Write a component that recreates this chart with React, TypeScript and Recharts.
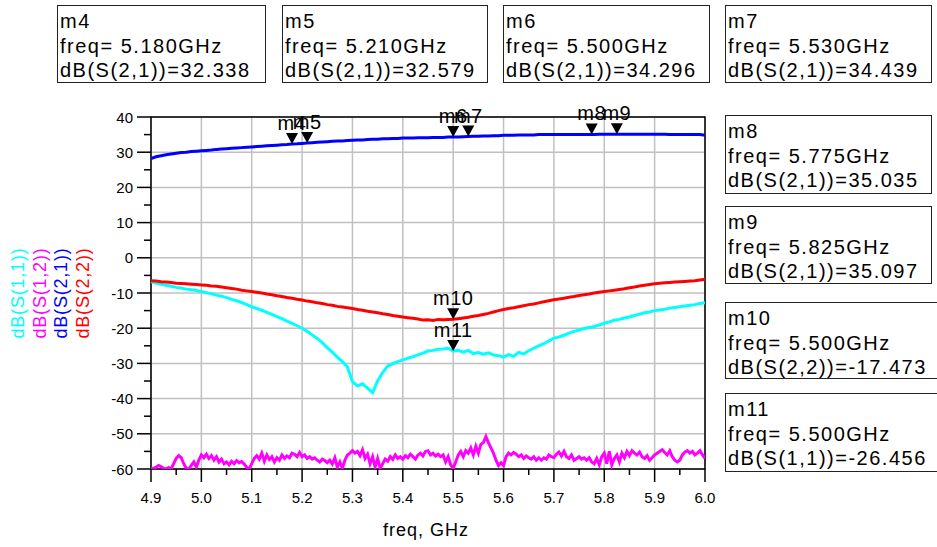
import React from 'react';
import {
  LineChart,
  Line,
  XAxis,
  YAxis,
  CartesianGrid,
  ReferenceDot,
  ReferenceArea,
} from 'recharts';

const FONT = '"Liberation Sans", Arial, sans-serif';

// sweep: 4.90 .. 6.00 GHz, 0.01 GHz step (S12 at 0.005 GHz)
const F_START = 4.9;

const S11 = [
  -6.8, -7.2, -7.5, -7.8, -8.1, -8.4, -8.6, -8.9, -9.1, -9.3,
  -9.6, -9.9, -10.2, -10.6, -10.9, -11.3, -11.8, -12.2, -12.7, -13.3,
  -13.9, -14.4, -14.9, -15.5, -16.1, -16.7, -17.3, -18.0, -18.6, -19.3,
  -20.0, -20.9, -21.9, -22.9, -24.1, -25.5, -26.8, -28.2, -29.5, -31.0,
  -35.2, -36.4, -35.8, -37.0, -38.3, -35.0, -32.6, -30.7, -30.1, -29.5,
  -29.0, -28.5, -28.1, -27.6, -27.1, -26.5, -26.3, -26.0, -25.9, -25.7,
  -26.46, -26.3, -26.8, -26.3, -27.2, -26.9, -27.4, -27.0, -27.6, -27.8,
  -28.2, -27.5, -28.0, -26.9, -27.3, -26.4, -25.7, -25.0, -24.4, -23.6,
  -22.8, -22.5, -22.0, -21.4, -20.9, -20.5, -20.1, -19.8, -19.5, -19.1,
  -18.6, -18.2, -17.7, -17.5, -17.1, -16.8, -16.4, -16.0, -15.6, -15.4,
  -15.0, -14.8, -14.6, -14.3, -14.1, -13.9, -13.7, -13.5, -13.3, -13.0,
  -12.8,
];

const S22 = [
  -6.5, -6.6, -6.8, -6.9, -7.0, -7.2, -7.3, -7.4, -7.5, -7.6,
  -7.7, -7.8, -8.0, -8.1, -8.3, -8.5, -8.7, -8.9, -9.2, -9.4,
  -9.6, -9.8, -10.0, -10.3, -10.5, -10.8, -11.0, -11.3, -11.5, -11.8,
  -12.0, -12.3, -12.5, -12.8, -13.0, -13.3, -13.5, -13.8, -14.0, -14.2,
  -14.4, -14.7, -14.9, -15.2, -15.4, -15.6, -15.9, -16.1, -16.4, -16.6,
  -16.8, -17.0, -17.2, -17.4, -17.7, -17.6, -17.8, -17.5, -17.6, -17.5,
  -17.47, -17.3, -17.1, -16.9, -16.6, -16.4, -16.1, -15.8, -15.4, -15.0,
  -14.7, -14.4, -14.2, -13.9, -13.6, -13.3, -13.1, -12.8, -12.5, -12.2,
  -11.9, -11.7, -11.5, -11.2, -11.0, -10.7, -10.5, -10.3, -10.0, -9.8,
  -9.6, -9.4, -9.2, -9.0, -8.8, -8.5, -8.3, -8.0, -7.8, -7.6,
  -7.4, -7.2, -7.1, -7.0, -6.9, -6.8, -6.7, -6.6, -6.5, -6.3,
  -6.1,
];

const S21 = [
  28.2, 28.7, 29.0, 29.3, 29.5, 29.7, 29.9, 30.0, 30.2, 30.3,
  30.4, 30.5, 30.6, 30.8, 30.9, 31.0, 31.1, 31.2, 31.3, 31.4,
  31.5, 31.6, 31.7, 31.8, 31.9, 32.0, 32.1, 32.2, 32.34, 32.4,
  32.5, 32.58, 32.7, 32.8, 32.9, 33.0, 33.1, 33.2, 33.2, 33.3,
  33.4, 33.5, 33.5, 33.6, 33.7, 33.7, 33.8, 33.8, 33.9, 33.9,
  34.0, 34.0, 34.0, 34.1, 34.1, 34.1, 34.2, 34.2, 34.2, 34.3,
  34.3, 34.35, 34.4, 34.44, 34.5, 34.5, 34.6, 34.6, 34.7, 34.7,
  34.8, 34.8, 34.8, 34.9, 34.9, 34.9, 34.9, 35.0, 35.0, 35.0,
  35.0, 35.0, 35.0, 35.0, 35.0, 35.0, 35.0, 35.0, 35.04, 35.1,
  35.1, 35.1, 35.1, 35.1, 35.1, 35.1, 35.1, 35.1, 35.1, 35.1,
  35.1, 35.1, 35.1, 35.0, 35.0, 35.0, 35.0, 35.0, 35.0, 35.0,
  34.8,
];

const S12 = [
  -60, -59.8, -59.5, -59.0, -59.3, -59.8, -60, -59.6, -60, -58.5,
  -57.0, -56.2, -56.8, -58.5, -59.8, -60, -59.0, -58.0, -59.5, -57.5,
  -56.0, -56.8, -55.8, -57.0, -56.2, -57.5, -56.5, -58.0, -57.2, -58.5,
  -58.0, -58.8, -57.8, -58.5, -57.6, -58.2, -57.9, -58.6, -59.5, -60,
  -58.5, -57.0, -56.2, -57.2, -55.5, -57.8, -56.0, -57.3, -56.5, -58.0,
  -56.8, -57.5, -56.0, -57.0, -56.3, -56.8, -55.5, -55.8, -56.5, -55.3,
  -56.5, -56.0, -57.0, -56.5, -57.2, -56.8, -57.5, -58.0, -57.2, -57.6,
  -58.2, -57.5, -58.6, -56.8, -59.5, -58.0, -59.8, -57.5, -56.0, -55.5,
  -54.8, -55.5, -55.0, -56.2, -54.5, -57.0, -55.8, -58.5, -56.5, -59.5,
  -57.0, -59.8, -58.5, -57.2, -57.8, -56.5, -57.3, -56.0, -57.0, -56.5,
  -57.2, -56.2, -56.8, -55.8, -56.5, -57.2, -56.0, -55.5, -56.3, -55.0,
  -54.8, -56.0, -55.5, -56.3, -55.8, -56.5, -56.0, -58.0, -56.5, -58.8,
  -59.9, -58.0, -56.0, -55.0, -56.5, -54.8, -55.5, -54.0, -56.0, -53.5,
  -55.5, -53.0, -52.5, -50.8, -52.5, -54.0, -55.5, -57.5, -59.0, -58.2,
  -59.0, -56.5, -55.5, -56.0, -55.3, -55.8, -56.5, -56.0, -57.0, -56.3,
  -56.8, -57.2, -56.5, -57.5, -56.8, -57.5, -56.8, -57.2, -56.0, -56.5,
  -56.8, -55.8, -55.2, -56.3, -55.0, -56.5, -57.0, -56.0, -57.5, -57.0,
  -56.5, -57.2, -56.8, -57.5, -56.8, -58.0, -58.5, -57.0, -58.8, -56.5,
  -55.5, -58.5, -55.0, -58.8, -57.0, -56.0, -58.0, -55.5, -56.8, -55.0,
  -56.2, -54.8, -55.5, -56.0, -55.2, -56.5, -57.0, -56.2, -57.5, -56.8,
  -56.0, -55.5, -55.0, -54.5, -55.3, -56.0, -54.8, -56.5, -57.5, -58.0,
  -57.5, -56.0, -55.2, -54.8, -55.5, -55.0, -56.0, -55.5, -54.8, -56.0,
  -57.0,
];

const SERIES_NAMES = ['dB(S(1,1))', 'dB(S(1,2))', 'dB(S(2,1))', 'dB(S(2,2))'];
const SERIES_COLORS = ['#00ffff', '#ff00ff', '#0000ff', '#ff0000'];

const X_TICKS = [
  4.9, 4.95, 5.0, 5.05, 5.1, 5.15, 5.2, 5.25, 5.3, 5.35, 5.4, 5.45,
  5.5, 5.55, 5.6, 5.65, 5.7, 5.75, 5.8, 5.85, 5.9, 5.95, 6.0,
];
const X_GRID = [4.9, 5.0, 5.1, 5.2, 5.3, 5.4, 5.5, 5.6, 5.7, 5.8, 5.9, 6.0];
const Y_TICKS = [-60, -55, -50, -45, -40, -35, -30, -25, -20, -15, -10, -5, 0, 5, 10, 15, 20, 25, 30, 35, 40];
const Y_GRID = [-60, -50, -40, -30, -20, -10, 0, 10, 20, 30, 40];

// markers
const MARKER_NAMES = ['m4', 'm5', 'm6', 'm7', 'm8', 'm9', 'm10', 'm11'];
const MARKER_FREQ = [5.18, 5.21, 5.5, 5.53, 5.775, 5.825, 5.5, 5.5];
const MARKER_TRACE = ['dB(S(2,1))', 'dB(S(2,1))', 'dB(S(2,1))', 'dB(S(2,1))', 'dB(S(2,1))', 'dB(S(2,1))', 'dB(S(2,2))', 'dB(S(1,1))'];
const MARKER_VALUE = [32.338, 32.579, 34.296, 34.439, 35.035, 35.097, -17.473, -26.456];

// readout box placement (layout only)
const BOX_POS = [
  { left: 57, top: 5, width: 209, height: 78 },
  { left: 282, top: 5, width: 206, height: 78 },
  { left: 503, top: 5, width: 207, height: 78 },
  { left: 725, top: 5, width: 207, height: 78 },
  { left: 725, top: 115, width: 207, height: 79 },
  { left: 725, top: 206, width: 207, height: 78 },
  { left: 725, top: 302, width: 220, height: 77 },
  { left: 725, top: 393, width: 220, height: 79 },
];

const toPoints = (vals: number[], step: number) =>
  vals.map((v, i) => ({ f: Math.round((F_START + i * step) * 1000) / 1000, v }));

const SERIES_DATA = [toPoints(S11, 0.01), toPoints(S12, 0.005), toPoints(S21, 0.01), toPoints(S22, 0.01)];

const YTick = (props: any) => {
  const { x, y, payload } = props;
  const major = payload.value % 10 === 0;
  return (
    <g>
      <line x1={x - (major ? 14 : 7)} x2={x} y1={y} y2={y} stroke="#000" strokeWidth={1.5} />
      {major && (
        <text x={x - 18} y={y} textAnchor="end" dominantBaseline="central"
          fontSize={15} fontFamily={FONT} fill="#000">
          {payload.value}
        </text>
      )}
    </g>
  );
};

const XTick = (props: any) => {
  const { x, y, payload } = props;
  const major = Math.round(payload.value * 100) % 10 === 0;
  return (
    <g>
      <line x1={x} x2={x} y1={y} y2={y + (major ? 13 : 6)} stroke="#000" strokeWidth={1.5} />
      {major && (
        <text x={x} y={y + 28} textAnchor="middle" dominantBaseline="central"
          fontSize={15} fontFamily={FONT} fill="#000">
          {payload.value.toFixed(1)}
        </text>
      )}
    </g>
  );
};

const markerShape = (name: string) => (props: any) => {
  const { cx, cy } = props;
  return (
    <g>
      <path d={`M${cx - 6},${cy - 11} L${cx + 6},${cy - 11} L${cx},${cy} Z`} fill="#000" />
      <text x={cx} y={cy - 14} textAnchor="middle" fontSize={20} letterSpacing={0.5}
        fontFamily={FONT} fill="#000">
        {name}
      </text>
    </g>
  );
};

export default function App() {
  return (
    <div style={{ position: 'absolute', left: 0, top: 0, width: 937, height: 547, background: '#fff', fontFamily: FONT }}>
      <LineChart width={937} height={547} margin={{ top: 117, right: 232, bottom: 38, left: 91 }}>
        <CartesianGrid stroke="#c0c0c0" strokeWidth={1.5} horizontalValues={Y_GRID} verticalValues={X_GRID} />
        <XAxis
          type="number"
          dataKey="f"
          domain={[4.9, 6.0]}
          ticks={X_TICKS}
          interval={0}
          height={40}
          tickSize={0}
          tickMargin={0}
          axisLine={false}
          tickLine={false}
          tick={<XTick />}
          allowDataOverflow
        />
        <YAxis
          type="number"
          dataKey="v"
          domain={[-60, 40]}
          ticks={Y_TICKS}
          interval={0}
          width={60}
          tickSize={0}
          tickMargin={0}
          axisLine={false}
          tickLine={false}
          tick={<YTick />}
          allowDataOverflow
        />
        {SERIES_NAMES.map((name, i) => (
          <Line
            key={name}
            data={SERIES_DATA[i]}
            dataKey="v"
            name={name}
            stroke={SERIES_COLORS[i]}
            strokeWidth={3}
            dot={false}
            type="linear"
            isAnimationActive={false}
          />
        ))}
        <ReferenceArea x1={4.9} x2={6.0} y1={-60} y2={40} fill="none" stroke="#000" strokeWidth={1.5} />
        {MARKER_NAMES.map((name, i) => (
          <ReferenceDot
            key={name}
            x={MARKER_FREQ[i]}
            y={MARKER_VALUE[i]}
            shape={markerShape(name)}
          />
        ))}
      </LineChart>

      <svg width={937} height={547} style={{ position: 'absolute', left: 0, top: 0, pointerEvents: 'none' }}>
        {SERIES_NAMES.map((name, i) => {
          const x = 18 + i * 21.7;
          return (
            <text key={name} x={x} y={293} transform={`rotate(-90, ${x}, 293)`}
              textAnchor="middle" dominantBaseline="central" fontSize={18}
              letterSpacing={0.8} fontFamily={FONT} fill={SERIES_COLORS[i]}>
              {name}
            </text>
          );
        })}
        <text x={426} y={530} textAnchor="middle" dominantBaseline="central"
          fontSize={18} letterSpacing={1} fontFamily={FONT} fill="#000">
          freq, GHz
        </text>
      </svg>

      {MARKER_NAMES.map((name, i) => (
        <div
          key={name}
          style={{
            position: 'absolute',
            left: BOX_POS[i].left,
            top: BOX_POS[i].top,
            width: BOX_POS[i].width,
            height: BOX_POS[i].height,
            border: '1.5px solid #222',
            boxSizing: 'border-box',
            padding: '3px 0 0 2px',
            fontSize: 20,
            lineHeight: '24.5px',
            letterSpacing: 1.5,
            color: '#000',
            whiteSpace: 'nowrap',
            overflow: 'hidden',
            background: '#fff',
          }}
        >
          <div>{name}</div>
          <div>freq= {MARKER_FREQ[i].toFixed(3)}GHz</div>
          <div>{MARKER_TRACE[i]}={MARKER_VALUE[i].toFixed(3)}</div>
        </div>
      ))}
    </div>
  );
}
